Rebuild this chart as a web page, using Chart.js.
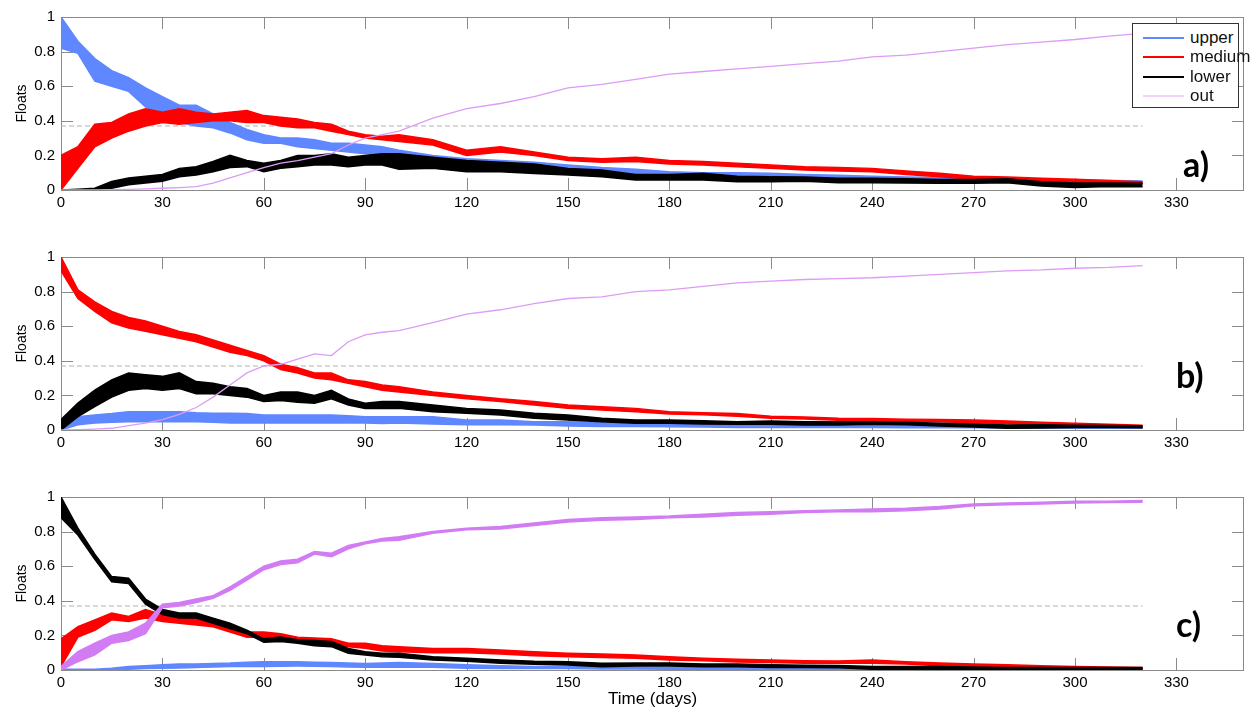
<!DOCTYPE html>
<html>
<head>
<meta charset="utf-8">
<script src="https://cdn.jsdelivr.net/npm/chart.js@4.4.1/dist/chart.umd.min.js"></script>
<style>
  body { margin: 0; background: #fff; }
  #wrap { position: relative; width: 1253px; height: 708px; background: #fff; overflow: hidden; }
  #wrap canvas { position: absolute; left: 0; }
  .tag { position: absolute; font: bold 34px Lato, "Open Sans", sans-serif; line-height: 34px; color: #000; }
  #legend { position: absolute; left: 1132px; top: 23px; width: 105px; height: 83px;
            border: 1px solid #333; background: #fff; font: 17px "Liberation Sans", Arial, sans-serif; color: #111; }
  #legend .row { position: absolute; left: 0; height: 19px; width: 140px; }
  #legend .sw { position: absolute; left: 10px; top: 9px; width: 41px; height: 2px; }
  #legend .tx { position: absolute; left: 57px; top: 0; line-height: 19px; white-space: nowrap; }
</style>
</head>
<body>
<div id="wrap">
  <canvas id="panelA" width="1253" height="240" style="top:0"></canvas>
  <canvas id="panelB" width="1253" height="240" style="top:240px"></canvas>
  <canvas id="panelC" width="1253" height="228" style="top:480px"></canvas>
  <div class="tag" style="left:1183px;top:147px">a)</div>
  <div class="tag" style="left:1176px;top:358px">b)</div>
  <div class="tag" style="left:1176px;top:607px">c)</div>
  <div id="legend"></div>
</div>
<script>
// ─── Data (fraction of floats per layer) ─────────────────────────────────
// sample days: every 5 days to day 100, then every 10 days to day 320
const days = [0,5,10,15,20,25,30,35,40,45,50,55,60,65,70,75,80,85,90,95,100,
              110,120,130,140,150,160,170,180,190,200,210,220,230,240,250,260,270,280,290,300,310,320];

const seriesNames = ["upper", "medium", "lower", "out"];
const xTickValues = [0,30,60,90,120,150,180,210,240,270,300,330];
const yTickValues = [0,0.2,0.4,0.6,0.8,1];
const yTickLabels = ["0","0.2","0.4","0.6","0.8","1"];
const threshold = 0.37;          // dashed reference level
const thresholdDays = [0, 320];

// panel a) — released in the upper layer (band = min/max of the noisy trace)
const aUpperHi  = [1.00,0.86,0.76,0.69,0.65,0.59,0.54,0.49,0.49,0.44,0.39,0.35,0.32,0.30,0.30,0.29,0.27,0.27,0.26,0.25,0.23,
                   0.20,0.18,0.17,0.16,0.145,0.13,0.12,0.106,0.10,0.10,0.097,0.09,0.085,0.08,0.075,0.072,0.068,0.065,0.062,0.058,0.055,0.052];
const aUpperLo  = [0.82,0.79,0.63,0.60,0.57,0.48,0.43,0.39,0.37,0.36,0.33,0.29,0.27,0.27,0.25,0.24,0.23,0.22,0.21,0.20,0.19,
                   0.15,0.145,0.135,0.12,0.106,0.095,0.09,0.077,0.072,0.07,0.068,0.062,0.058,0.056,0.054,0.052,0.05,0.05,0.048,0.046,0.045,0.042];
const aMediumHi = [0.20,0.25,0.38,0.39,0.44,0.47,0.45,0.47,0.45,0.44,0.45,0.46,0.43,0.42,0.41,0.39,0.38,0.34,0.32,0.31,0.32,
                   0.29,0.23,0.25,0.22,0.19,0.18,0.19,0.17,0.165,0.155,0.145,0.135,0.13,0.125,0.11,0.097,0.08,0.075,0.068,0.062,0.055,0.048];
const aMediumLo = [0.00,0.125,0.25,0.30,0.34,0.37,0.39,0.38,0.39,0.40,0.40,0.39,0.39,0.37,0.36,0.36,0.34,0.32,0.30,0.29,0.28,
                   0.26,0.20,0.22,0.20,0.17,0.16,0.165,0.15,0.145,0.135,0.125,0.115,0.11,0.105,0.09,0.077,0.062,0.06,0.052,0.046,0.04,0.033];
const aLowerHi  = [0.00,0.005,0.01,0.05,0.07,0.08,0.09,0.125,0.135,0.165,0.20,0.17,0.155,0.17,0.20,0.20,0.21,0.19,0.20,0.21,0.21,
                   0.19,0.17,0.16,0.15,0.125,0.116,0.09,0.09,0.097,0.08,0.077,0.075,0.068,0.068,0.065,0.06,0.06,0.065,0.048,0.04,0.04,0.039];
const aLowerLo  = [0.00,0.00,0.00,0.01,0.03,0.04,0.05,0.077,0.087,0.106,0.13,0.135,0.106,0.125,0.135,0.145,0.145,0.135,0.145,0.145,0.12,
                   0.125,0.106,0.106,0.095,0.087,0.077,0.058,0.058,0.058,0.048,0.048,0.05,0.042,0.042,0.04,0.039,0.039,0.042,0.023,0.015,0.02,0.019];
const aOut      = [0,0,0,0.002,0.004,0.006,0.01,0.014,0.02,0.04,0.07,0.10,0.13,0.155,0.17,0.19,0.21,0.26,0.30,0.32,0.34,
                   0.415,0.47,0.50,0.54,0.59,0.61,0.64,0.67,0.685,0.70,0.715,0.73,0.745,0.77,0.78,0.80,0.82,0.84,0.855,0.87,0.89,0.905];

// panel b) — released in the medium layer
const bUpperHi  = [0.01,0.077,0.087,0.095,0.106,0.106,0.106,0.106,0.10,0.097,0.097,0.095,0.087,0.087,0.087,0.087,0.087,0.082,0.077,0.077,0.077,
                   0.077,0.058,0.058,0.048,0.048,0.043,0.04,0.039,0.037,0.035,0.033,0.03,0.029,0.029,0.028,0.027,0.026,0.025,0.022,0.02,0.02,0.02];
const bUpperLo  = [0,0.03,0.04,0.045,0.048,0.048,0.048,0.048,0.048,0.045,0.04,0.04,0.04,0.04,0.04,0.04,0.04,0.04,0.04,0.037,0.04,
                   0.035,0.03,0.03,0.029,0.023,0.02,0.02,0.019,0.017,0.015,0.015,0.015,0.014,0.014,0.013,0.013,0.013,0.012,0.011,0.01,0.01,0.01];
const bMediumHi = [1.00,0.81,0.74,0.685,0.65,0.63,0.60,0.57,0.55,0.52,0.49,0.46,0.43,0.38,0.36,0.33,0.33,0.29,0.28,0.26,0.25,
                   0.22,0.20,0.18,0.165,0.145,0.135,0.125,0.106,0.10,0.095,0.08,0.075,0.068,0.066,0.062,0.06,0.058,0.052,0.045,0.039,0.033,0.027];
const bMediumLo = [0.92,0.76,0.685,0.62,0.59,0.57,0.55,0.53,0.51,0.48,0.45,0.43,0.40,0.35,0.33,0.30,0.29,0.27,0.25,0.23,0.22,
                   0.20,0.18,0.165,0.145,0.125,0.115,0.106,0.093,0.088,0.08,0.068,0.064,0.057,0.054,0.05,0.047,0.042,0.037,0.032,0.027,0.021,0.015];
const bLowerHi  = [0.06,0.155,0.23,0.29,0.33,0.32,0.31,0.33,0.28,0.27,0.25,0.24,0.20,0.22,0.22,0.20,0.23,0.18,0.155,0.165,0.165,
                   0.145,0.125,0.116,0.097,0.087,0.068,0.058,0.058,0.054,0.048,0.052,0.048,0.048,0.048,0.045,0.039,0.035,0.029,0.03,0.027,0.026,0.025];
const bLowerLo  = [0.00,0.077,0.135,0.19,0.23,0.24,0.23,0.24,0.21,0.21,0.20,0.19,0.165,0.17,0.16,0.155,0.18,0.145,0.125,0.125,0.125,
                   0.106,0.097,0.087,0.068,0.058,0.048,0.039,0.039,0.035,0.033,0.033,0.029,0.029,0.033,0.03,0.023,0.018,0.01,0.012,0.015,0.014,0.013];
const bOut      = [0,0.002,0.005,0.01,0.025,0.04,0.06,0.09,0.13,0.19,0.26,0.33,0.37,0.38,0.41,0.44,0.43,0.51,0.55,0.565,0.575,
                   0.62,0.67,0.695,0.73,0.76,0.77,0.80,0.81,0.83,0.85,0.86,0.87,0.875,0.88,0.89,0.90,0.91,0.92,0.925,0.935,0.94,0.95];

// panel c) — released in the lower layer
const cUpperHi  = [0.005,0.005,0.005,0.01,0.02,0.025,0.03,0.035,0.035,0.038,0.04,0.045,0.048,0.048,0.048,0.045,0.043,0.04,0.038,0.04,0.043,
                   0.038,0.03,0.025,0.02,0.02,0.018,0.017,0.016,0.015,0.015,0.014,0.012,0.012,0.011,0.01,0.01,0.01,0.009,0.009,0.008,0.008,0.008];
const cUpperLo  = [0,0,0,0,0.005,0.008,0.01,0.012,0.015,0.018,0.02,0.02,0.02,0.022,0.023,0.022,0.02,0.018,0.016,0.016,0.016,
                   0.016,0.01,0.008,0.008,0.008,0.006,0.006,0.005,0.005,0.004,0.004,0.003,0.003,0.003,0.003,0.002,0.002,0.002,0.002,0.002,0.002,0.002];
const cMediumHi = [0.18,0.25,0.29,0.33,0.31,0.35,0.32,0.31,0.30,0.28,0.25,0.22,0.22,0.21,0.19,0.185,0.18,0.155,0.155,0.14,0.135,
                   0.125,0.125,0.116,0.105,0.097,0.092,0.087,0.077,0.068,0.062,0.058,0.054,0.052,0.058,0.048,0.04,0.035,0.03,0.025,0.02,0.018,0.015];
const cMediumLo = [0.02,0.19,0.23,0.29,0.28,0.30,0.28,0.27,0.26,0.25,0.22,0.19,0.19,0.18,0.165,0.16,0.155,0.135,0.125,0.11,0.106,
                   0.10,0.10,0.093,0.083,0.077,0.072,0.068,0.058,0.054,0.046,0.043,0.039,0.039,0.039,0.035,0.025,0.02,0.016,0.012,0.008,0.005,0.004];
const cLowerHi  = [1.00,0.82,0.67,0.54,0.53,0.41,0.35,0.33,0.33,0.30,0.27,0.23,0.18,0.19,0.175,0.17,0.165,0.125,0.106,0.097,0.097,
                   0.077,0.068,0.058,0.05,0.048,0.039,0.04,0.04,0.035,0.035,0.03,0.028,0.026,0.02,0.02,0.02,0.018,0.015,0.015,0.015,0.015,0.015];
const cLowerLo  = [0.88,0.78,0.64,0.51,0.50,0.38,0.32,0.30,0.30,0.27,0.24,0.21,0.16,0.165,0.155,0.14,0.135,0.097,0.087,0.077,0.073,
                   0.058,0.05,0.039,0.033,0.029,0.019,0.023,0.023,0.019,0.019,0.015,0.014,0.013,0.005,0.005,0.005,0.005,0.005,0.005,0.005,0.005,0.005];
const cOutHi    = [0.02,0.106,0.155,0.20,0.22,0.27,0.38,0.39,0.41,0.43,0.48,0.54,0.60,0.63,0.64,0.685,0.675,0.72,0.74,0.76,0.77,
                   0.80,0.82,0.83,0.85,0.87,0.88,0.885,0.89,0.90,0.91,0.915,0.92,0.925,0.93,0.935,0.945,0.96,0.965,0.97,0.975,0.975,0.98];
const cOutLo    = [0,0.048,0.087,0.155,0.17,0.21,0.36,0.37,0.39,0.415,0.46,0.52,0.58,0.61,0.62,0.67,0.655,0.70,0.73,0.745,0.75,
                   0.79,0.81,0.815,0.835,0.855,0.865,0.87,0.88,0.885,0.895,0.90,0.91,0.915,0.915,0.92,0.93,0.95,0.955,0.96,0.965,0.968,0.97];

// ─── Style ───────────────────────────────────────────────
const BLUE = "#5f87ff", RED = "#ff0000", BLACK = "#000000";
const PURPLE_THIN = "#dc9cf6", PURPLE_C = "#d27cf4", PURPLE_LEGEND = "#f2d2fa";
const FRAME = "#8a8a8a", TICK_LEN = 12;
const FONT = "'Liberation Sans', Arial, Helvetica, sans-serif";

Chart.defaults.font.family = FONT;
Chart.defaults.font.size = 15;
Chart.defaults.color = "#000";

const pts = arr => arr.map((v, i) => ({ x: days[i], y: v }));

function band(label, lo, hi, color, order) {
  const base = { label, borderColor: color, backgroundColor: color, borderWidth: 1.5,
                 pointRadius: 0, tension: 0, order };
  return [
    { ...base, data: pts(lo), fill: false },
    { ...base, data: pts(hi), fill: "-1" },
  ];
}

function line(label, vals, color, width, order) {
  return { label, data: pts(vals), borderColor: color, borderWidth: width,
           pointRadius: 0, tension: 0, fill: false, order };
}

function thresholdLine() {
  return { label: "e-fold", data: thresholdDays.map(d => ({ x: d, y: threshold })),
           borderColor: "#b2b2b2", borderWidth: 1, borderDash: [5, 3],
           pointRadius: 0, fill: false, order: 10 };
}

// inside ticks on all four sides + box, drawn under the data like MATLAB
const frameTicks = {
  id: "frameTicks",
  beforeDatasetsDraw(chart) {
    const { ctx, chartArea: a, scales: { x, y } } = chart;
    ctx.save();
    ctx.strokeStyle = FRAME;
    ctx.lineWidth = 1;
    ctx.beginPath();
    x.ticks.forEach(t => {
      const px = Math.round(x.getPixelForValue(t.value)) + 0.5;
      ctx.moveTo(px, a.bottom); ctx.lineTo(px, a.bottom - TICK_LEN);
      ctx.moveTo(px, a.top);    ctx.lineTo(px, a.top + TICK_LEN);
    });
    y.ticks.forEach(t => {
      const py = Math.round(y.getPixelForValue(t.value)) + 0.5;
      ctx.moveTo(a.left, py);  ctx.lineTo(a.left + TICK_LEN, py);
      ctx.moveTo(a.right, py); ctx.lineTo(a.right - TICK_LEN, py);
    });
    ctx.stroke();
    ctx.strokeRect(Math.round(a.left) + 0.5, Math.round(a.top) + 0.5,
                   Math.round(a.width) - 1, Math.round(a.height));
    ctx.restore();
  }
};

function makePanel(id, datasets, axisHeight, xTitle) {
  new Chart(document.getElementById(id), {
    type: "line",
    data: { datasets },
    options: {
      responsive: false,
      animation: false,
      devicePixelRatio: 1,
      layout: { padding: { top: 17, right: 9, left: 0, bottom: 0 } },
      plugins: { legend: { display: false }, tooltip: { enabled: false } },
      scales: {
        x: {
          type: "linear", min: 0, max: 350,
          afterBuildTicks: s => { s.ticks = xTickValues.map(v => ({ value: v })); },
          afterFit: s => { s.height = axisHeight; },
          ticks: { padding: 4, maxRotation: 0, autoSkip: false, callback: v => String(v) },
          grid: { display: false, drawTicks: false },
          border: { display: false },
          title: { display: !!xTitle, text: xTitle || "", padding: { top: 0, bottom: -2 },
                   font: { size: 17 } }
        },
        y: {
          type: "linear", min: 0, max: 1,
          afterBuildTicks: s => { s.ticks = yTickValues.map(v => ({ value: v })); },
          afterFit: s => { s.width = 61; },
          ticks: { padding: 6, callback: (v, i) => yTickLabels[i] },
          grid: { display: false, drawTicks: false },
          border: { display: false },
          title: { display: true, text: "Floats", padding: { top: 13.6, bottom: 0 },
                   font: { size: 14 } }
        }
      }
    },
    plugins: [frameTicks]
  });
}

// order: out on top, then lower, medium, upper, dashed line at the bottom
makePanel("panelA", [
  ...band(seriesNames[0], aUpperLo, aUpperHi, BLUE, 4),
  ...band(seriesNames[1], aMediumLo, aMediumHi, RED, 3),
  ...band(seriesNames[2], aLowerLo, aLowerHi, BLACK, 2),
  line(seriesNames[3], aOut, PURPLE_THIN, 1.3, 1),
  thresholdLine()
], 50);

makePanel("panelB", [
  ...band(seriesNames[0], bUpperLo, bUpperHi, BLUE, 4),
  ...band(seriesNames[1], bMediumLo, bMediumHi, RED, 3),
  ...band(seriesNames[2], bLowerLo, bLowerHi, BLACK, 2),
  line(seriesNames[3], bOut, PURPLE_THIN, 1.3, 1),
  thresholdLine()
], 50);

makePanel("panelC", [
  ...band(seriesNames[0], cUpperLo, cUpperHi, BLUE, 4),
  ...band(seriesNames[1], cMediumLo, cMediumHi, RED, 3),
  ...band(seriesNames[2], cLowerLo, cLowerHi, BLACK, 2),
  ...band(seriesNames[3], cOutLo, cOutHi, PURPLE_C, 1),
  thresholdLine()
], 38, "Time (days)");

// ─── Legend (panel a) ────────────────────────────────────
const legendColors = [BLUE, RED, BLACK, PURPLE_LEGEND];
const legend = document.getElementById("legend");
seriesNames.forEach((name, i) => {
  const row = document.createElement("div");
  row.className = "row";
  row.style.top = (4 + i * 19.3) + "px";
  row.innerHTML = `<div class="sw" style="background:${legendColors[i]}"></div><div class="tx">${name}</div>`;
  legend.appendChild(row);
});
</script>
</body>
</html>
